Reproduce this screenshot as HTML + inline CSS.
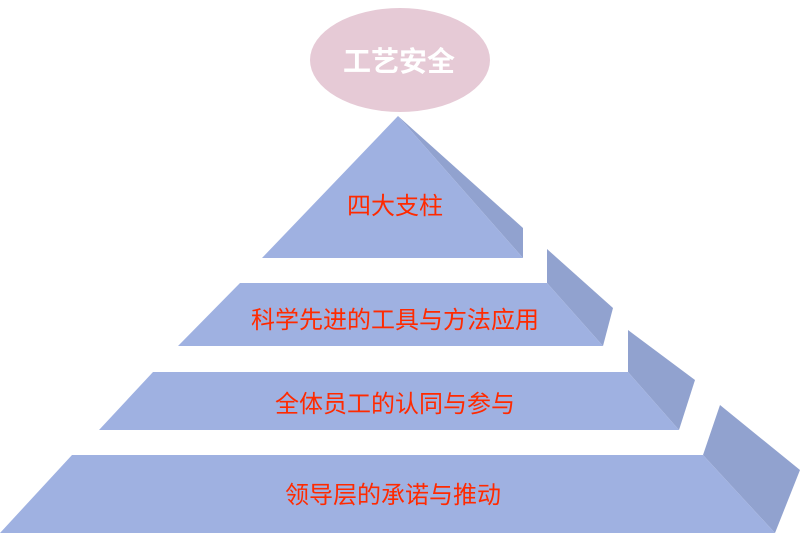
<!DOCTYPE html>
<html><head><meta charset="utf-8"><style>
html,body{margin:0;padding:0;background:#fff;width:800px;height:533px;overflow:hidden}
svg text{font-family:"Liberation Sans","Noto Sans CJK SC",sans-serif}
</style></head><body>
<svg width="800" height="533" viewBox="0 0 800 533" xmlns="http://www.w3.org/2000/svg">
<ellipse cx="400" cy="60" rx="90" ry="52" fill="#e6cad6"/>
<text x="399" y="71" font-size="28" font-weight="bold" fill="#fff" text-anchor="middle">工艺安全</text>
<polygon points="398,116 523,228 523,258" fill="#91a2cf"/>
<polygon points="398,116 523,258 262,258" fill="#9fb1e1"/>
<text x="395" y="214" font-size="24" fill="#ff2a00" text-anchor="middle">四大支柱</text>
<polygon points="547,249 613,308 603,346 547,283" fill="#91a2cf"/>
<polygon points="240,283 547,283 603,346 178,346" fill="#9fb1e1"/>
<text x="395" y="328" font-size="24" fill="#ff2a00" text-anchor="middle">科学先进的工具与方法应用</text>
<polygon points="628,330 695,380 679,430 628,372" fill="#91a2cf"/>
<polygon points="153,372 628,372 679,430 99,430" fill="#9fb1e1"/>
<text x="395" y="412" font-size="24" fill="#ff2a00" text-anchor="middle">全体员工的认同与参与</text>
<polygon points="720,405 800,470 775,533 703,455" fill="#91a2cf"/>
<polygon points="72,455 703,455 775,533 0,533" fill="#9fb1e1"/>
<text x="393" y="503" font-size="24" fill="#ff2a00" text-anchor="middle">领导层的承诺与推动</text>
</svg>
</body></html>
